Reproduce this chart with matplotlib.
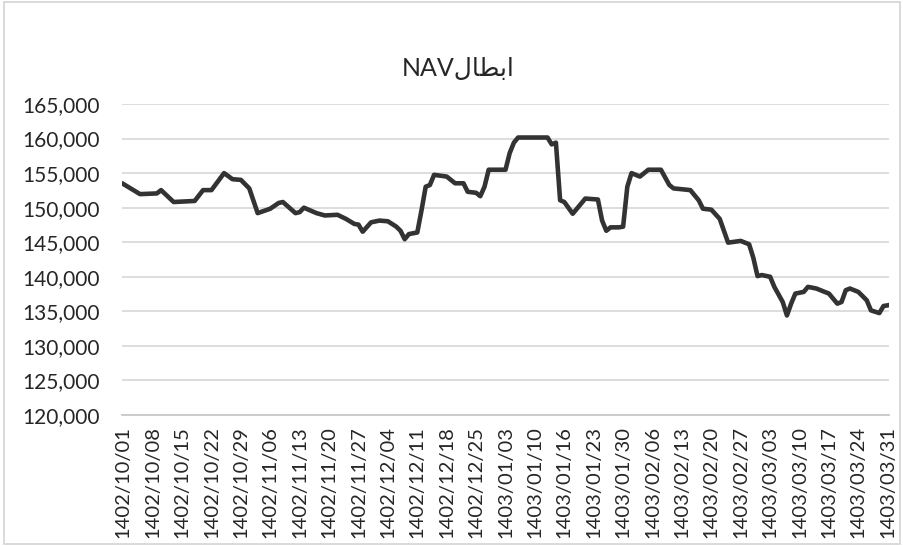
import matplotlib
matplotlib.use("Agg")
import matplotlib.pyplot as plt
from matplotlib.patches import Rectangle

# tick labels, one per week (category positions 0, 7, 14, ...)
date_labels = ['1402/10/01', '1402/10/08', '1402/10/15', '1402/10/22', '1402/10/29',
               '1402/11/06', '1402/11/13', '1402/11/20', '1402/11/27',
               '1402/12/04', '1402/12/11', '1402/12/18', '1402/12/25',
               '1403/01/03', '1403/01/10', '1403/01/16', '1403/01/23', '1403/01/30',
               '1403/02/06', '1403/02/13', '1403/02/20', '1403/02/27',
               '1403/03/03', '1403/03/10', '1403/03/17', '1403/03/24', '1403/03/31']

# NAV values (day offset from 1402/10/01, value)
day = [0, 4, 8, 9, 12, 17, 19, 21, 24, 26, 28, 30, 32, 35, 37, 38, 41, 42, 43, 46,
       48, 51, 53, 55, 56, 57, 59, 61, 63, 65, 66, 67, 68, 70, 71, 72, 73, 74, 77, 79,
       81, 82, 84, 85, 86, 87, 91, 92, 93, 94, 101, 102, 103, 104, 105, 107, 108, 110,
       113, 114, 115, 116, 118, 119, 120, 121, 123, 125, 128, 130, 131, 135, 137, 138,
       140, 142, 143, 144, 147, 149, 150, 151, 152, 154, 155, 157, 158, 159, 160, 162,
       163, 165, 167, 168, 170, 171, 172, 173, 175, 177, 178, 180, 181, 182]
nav = [153430, 151960, 152060, 152540, 150820, 150970, 152540, 152540, 155000, 154120,
       154020, 152790, 149210, 149850, 150680, 150820, 149210, 149350, 150000, 149210,
       148870, 148970, 148380, 147650, 147550, 146520, 147880, 148130, 148030, 147250,
       146660, 145440, 146180, 146410, 149600, 153030, 153280, 154750, 154500, 153530,
       153530, 152300, 152150, 151660, 153030, 155490, 155490, 157900, 159410, 160150,
       160150, 159160, 159410, 151070, 150820, 149120, 149850, 151320,
       151180, 148130, 146660, 147150, 147150, 147250, 153030, 155000, 154500, 155490,
       155490, 153280, 152790, 152540, 151070, 149850,
       149710, 148380, 146660, 144940, 145190, 144700, 142740, 140100, 140250, 140000,
       138540, 136350, 134400, 136110, 137570, 137810,
       138540, 138300, 137810, 137570, 136110, 136350, 138050, 138300, 137810, 136600,
       135140, 134750, 135770, 135870]

y_ticks = list(range(120000, 165001, 5000))

fig = plt.figure(figsize=(9.04, 5.46), dpi=100)
ax = fig.add_axes([122 / 904, 1 - 415 / 546, (889 - 122) / 904, (415 - 104) / 546])

ax.plot(day, nav, color='#333333', lw=3.3, solid_joinstyle='round')

ax.set_ylim(120000, 165000)
ax.set_xlim(-0.3, 182.3)
ax.set_yticks(y_ticks)
ax.set_yticklabels([f'{v:,}' for v in y_ticks], fontsize=15, family='Lato', color='#262626')
ax.set_xticks(range(0, 7 * len(date_labels), 7))
ax.set_xticklabels(date_labels, rotation=90, fontsize=14.5, family='Lato', color='#262626')
ax.tick_params(axis='y', length=0, pad=16)
ax.tick_params(axis='x', length=0, pad=8)

ax.grid(axis='y', color='#dadada', lw=1.3)
ax.set_axisbelow(True)
for s in ['top', 'right', 'left']:
    ax.spines[s].set_visible(False)
ax.spines['bottom'].set_color('#c8c8c8')
ax.spines['bottom'].set_linewidth(1.3)

# "ابطال" written with presentation forms in visual order (matplotlib has no shaping)
title = 'NAV' + '\uFEDD\uFE8E\uFEC4\uFE91\uFE8D'
fig.text(458 / 904, 1 - 68 / 546, title, ha='center', va='center', fontsize=18,
         family=['Lato', 'DejaVu Sans'], color='#262626')

fig.patches.append(Rectangle((0.004, 0.004), 0.992, 0.992, transform=fig.transFigure,
                             fill=False, edgecolor='#d4d4d4', lw=1.2))

fig.savefig('out.png', dpi=100, facecolor='white')
